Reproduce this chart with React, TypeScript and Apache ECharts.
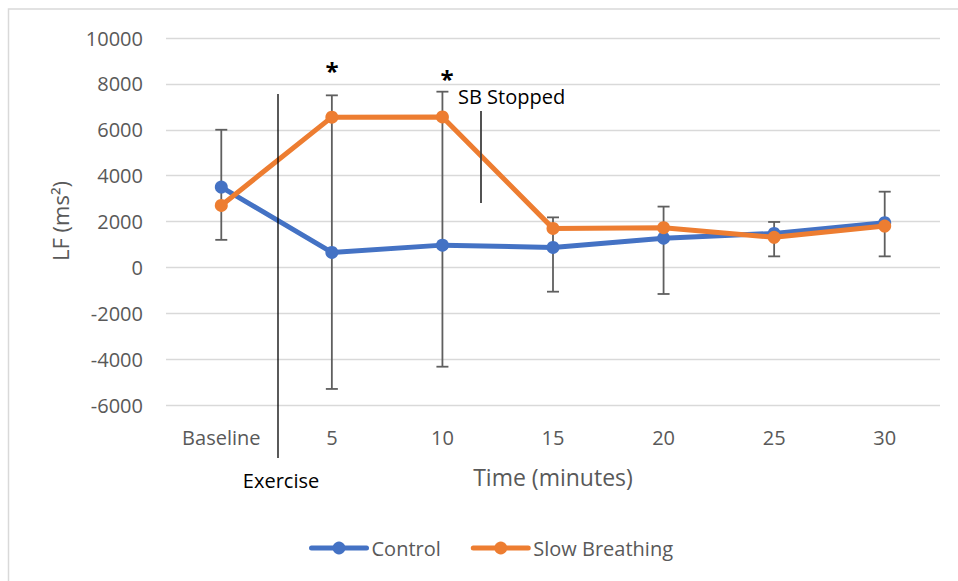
import React, { useEffect, useRef } from "react";
import * as echarts from "echarts";

const categories = ["Baseline", "5", "10", "15", "20", "25", "30"];
const controlValues = [3500, 650, 970, 870, 1270, 1480, 1950];
const slowBreathingValues = [2700, 6550, 6560, 1700, 1730, 1310, 1800];
const errorLow = [1200, -5300, -4330, -1060, -1160, 480, 480];
const errorHigh = [6000, 7500, 7660, 2180, 2650, 1980, 3300];
const yMin = -6000;
const yMax = 10000;
const yInterval = 2000;

const FONT = "Open Sans";
const GRAY = "#595959";

export default function App() {
  const ref = useRef<HTMLDivElement>(null);
  useEffect(() => {
    if (!ref.current) return;
    const chart = echarts.init(ref.current, null, { renderer: "svg" });
    const errData = categories.map((_, i) => [i, errorLow[i], errorHigh[i]]);
    chart.setOption({
      animation: false,
      backgroundColor: "#ffffff",
      textStyle: { fontFamily: FONT },
      grid: { left: 166, right: 18, top: 38, bottom: 176, containLabel: false },
      xAxis: {
        type: "category",
        data: categories,
        boundaryGap: true,
        axisLine: { show: false },
        axisTick: { show: false },
        splitLine: { show: false },
        axisLabel: { color: GRAY, fontSize: 20, fontFamily: FONT, margin: 22 },
      },
      yAxis: {
        type: "value",
        min: yMin,
        max: yMax,
        interval: yInterval,
        axisLine: { show: false },
        axisTick: { show: false },
        axisLabel: {
          color: GRAY,
          fontSize: 20,
          fontFamily: FONT,
          margin: 23,
          formatter: (v: number) => String(v),
        },
        splitLine: { lineStyle: { color: "#d9d9d9", width: 1.3 } },
      },
      legend: {
        data: ["Control", "Slow Breathing"],
        left: 304,
        top: 533,
        itemWidth: 55,
        itemHeight: 16,
        itemGap: 30,
        itemTextGap: 4,
        lineStyle: { width: 5, cap: "round" },
        textStyle: { color: GRAY, fontSize: 20, fontFamily: FONT },
      },
      series: [
        {
          name: "errors",
          type: "custom",
          z: 1,
          data: errData,
          encode: { x: 0, y: [1, 2] },
          renderItem: (params: any, api: any) => {
            const x = api.value(0);
            const lo = api.coord([x, api.value(1)]);
            const hi = api.coord([x, api.value(2)]);
            const w = 6;
            const style = { stroke: "#5f5f5f", lineWidth: 1.8 };
            return {
              type: "group",
              children: [
                { type: "line", shape: { x1: lo[0], y1: lo[1], x2: hi[0], y2: hi[1] }, style },
                { type: "line", shape: { x1: lo[0] - w, y1: lo[1], x2: lo[0] + w, y2: lo[1] }, style },
                { type: "line", shape: { x1: hi[0] - w, y1: hi[1], x2: hi[0] + w, y2: hi[1] }, style },
              ],
            };
          },
        },
        {
          name: "Control",
          type: "line",
          z: 3,
          data: controlValues,
          symbol: "circle",
          symbolSize: 13,
          color: "#4472C4",
          lineStyle: { width: 5, color: "#4472C4", cap: "round", join: "round" },
          itemStyle: { color: "#4472C4" },
        },
        {
          name: "Slow Breathing",
          type: "line",
          z: 4,
          data: slowBreathingValues,
          symbol: "circle",
          symbolSize: 13,
          color: "#ED7D31",
          lineStyle: { width: 5, color: "#ED7D31", cap: "round", join: "round" },
          itemStyle: { color: "#ED7D31" },
        },
      ],
      graphic: [
        {
          type: "rect",
          silent: true,
          shape: { x: 8.5, y: 9, width: 1000, height: 1000 },
          style: { fill: "none", stroke: "#d9d9d9", lineWidth: 1.5 },
        },
        {
          type: "line",
          shape: { x1: 278, y1: 94, x2: 278, y2: 458 },
          style: { stroke: "#000000", lineWidth: 1.3 },
          z: 10,
        },
        {
          type: "line",
          shape: { x1: 481, y1: 111, x2: 481, y2: 203 },
          style: { stroke: "#404040", lineWidth: 1.8 },
          z: 10,
        },
        {
          type: "text",
          x: 60,
          y: 221,
          rotation: Math.PI / 2,
          style: {
            text: "LF (ms²)",
            fontSize: 22,
            fontFamily: FONT,
            fill: GRAY,
            align: "center",
            verticalAlign: "middle",
            textAlign: "center",
            textVerticalAlign: "middle",
          },
        },
        {
          type: "text",
          x: 553,
          y: 477,
          style: {
            text: "Time (minutes)",
            fontSize: 23,
            fontFamily: FONT,
            fill: GRAY,
            align: "center",
            verticalAlign: "middle",
            textAlign: "center",
            textVerticalAlign: "middle",
          },
        },
        {
          type: "text",
          x: 281,
          y: 480,
          style: {
            text: "Exercise",
            fontSize: 20,
            fontFamily: FONT,
            fill: "#000000",
            align: "center",
            verticalAlign: "middle",
            textAlign: "center",
            textVerticalAlign: "middle",
          },
        },
        {
          type: "text",
          x: 458,
          y: 96,
          style: {
            text: "SB Stopped",
            fontSize: 20,
            fontFamily: FONT,
            fill: "#000000",
            align: "left",
            verticalAlign: "middle",
            textAlign: "left",
            textVerticalAlign: "middle",
          },
        },
        {
          type: "text",
          x: 332,
          y: 70,
          style: {
            text: "*",
            fontSize: 24,
            fontWeight: "bold",
            fontFamily: FONT,
            fill: "#000000",
            align: "center",
            verticalAlign: "middle",
            textAlign: "center",
            textVerticalAlign: "middle",
          },
        },
        {
          type: "text",
          x: 447,
          y: 78,
          style: {
            text: "*",
            fontSize: 24,
            fontWeight: "bold",
            fontFamily: FONT,
            fill: "#000000",
            align: "center",
            verticalAlign: "middle",
            textAlign: "center",
            textVerticalAlign: "middle",
          },
        },
      ],
    });
    return () => chart.dispose();
  }, []);
  return (
    <div
      ref={ref}
      style={{ position: "fixed", left: 0, top: 0, width: 958, height: 581 }}
    />
  );
}
